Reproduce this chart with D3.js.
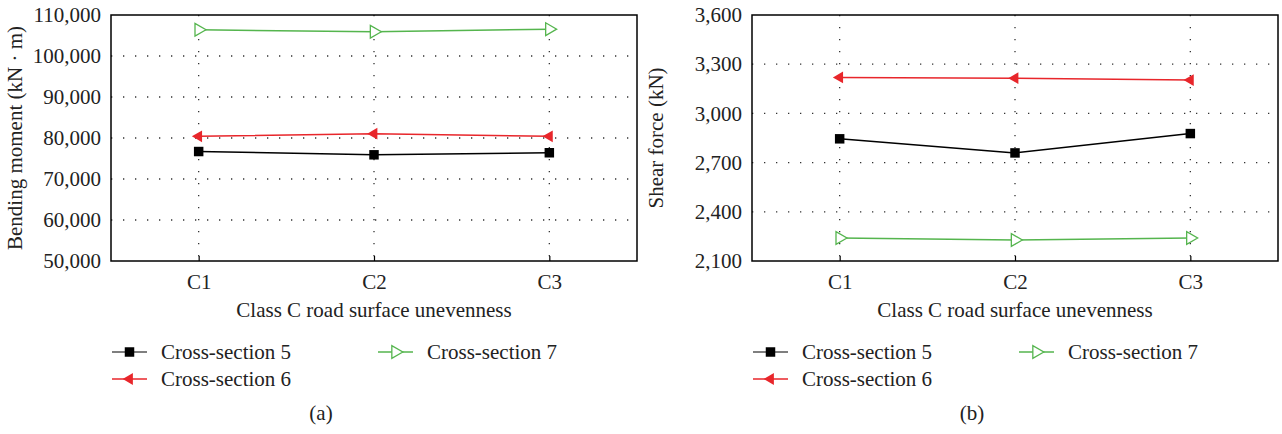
<!DOCTYPE html>
<html lang="en">
<head>
    <meta charset="UTF-8">
    <title>Class C road surface unevenness</title>
    <style>
        body { margin: 0; background: #fff; }
        text { font-family: "Liberation Serif", "DejaVu Serif", serif; fill: #222; }
    </style>
</head>
<body>
<div id="chart"></div>

<script src="https://d3js.org/d3.v7.min.js"></script>

<script>
    // Categories and series
    var categories = ["C1", "C2", "C3"];
    var seriesNames = ["Cross-section 5", "Cross-section 6", "Cross-section 7"];

    var moment5 = [76700, 75900, 76400];
    var moment6 = [80400, 81050, 80400];
    var moment7 = [106400, 105900, 106550];
    var momentTicks = [50000, 60000, 70000, 80000, 90000, 100000, 110000];

    var shear5 = [2845, 2759, 2877];
    var shear6 = [3219, 3215, 3203];
    var shear7 = [2240, 2228, 2240];
    var shearTicks = [2100, 2400, 2700, 3000, 3300, 3600];

    var colors = ["#000000", "#e8262b", "#55b54e"];

    var svg = d3.select("#chart").append("svg")
        .attr("width", 1282)
        .attr("height", 434);

    // Marker shapes: filled square, filled left triangle, open right triangle
    function addMarker(g, i, x, y) {
        if (i === 0) {
            g.append("path")
                .attr("d", d3.symbol().type(d3.symbolSquare).size(90)())
                .attr("transform", "translate(" + x + "," + y + ")")
                .attr("fill", colors[0]);
        } else if (i === 1) {
            g.append("path")
                .attr("d", d3.symbol().type(d3.symbolTriangle).size(60)())
                .attr("transform", "translate(" + x + "," + y + ") rotate(-90)")
                .attr("fill", colors[1]);
        } else {
            g.append("path")
                .attr("d", d3.symbol().type(d3.symbolTriangle).size(70)())
                .attr("transform", "translate(" + x + "," + y + ") rotate(90)")
                .attr("fill", "#fff")
                .attr("stroke", colors[2])
                .attr("stroke-width", 1.3);
        }
    }

    function drawPanel(p) {
        var left = p.left, top = 15, width = 526, height = 246;

        var x = d3.scaleLinear().domain([0.5, 3.5]).range([left, left + width]);
        var y = d3.scaleLinear().domain([p.ticks[0], p.ticks[p.ticks.length - 1]]).range([top + height, top]);

        var g = svg.append("g");

        // dotted grid
        g.selectAll(".hgrid")
            .data(p.ticks.slice(1, -1))
            .enter().append("line")
            .attr("x1", left).attr("x2", left + width)
            .attr("y1", d => y(d)).attr("y2", d => y(d))
            .attr("stroke", "#333").attr("stroke-width", 1.3)
            .attr("stroke-dasharray", "1.3,10.7");
        g.selectAll(".vgrid")
            .data(categories)
            .enter().append("line")
            .attr("x1", (d, i) => x(i + 1)).attr("x2", (d, i) => x(i + 1))
            .attr("y1", top).attr("y2", top + height)
            .attr("stroke", "#333").attr("stroke-width", 1.3)
            .attr("stroke-dasharray", "1.3,10.7");

        // y axis labels
        var yAxis = g.append("g")
            .attr("transform", "translate(" + left + ",0)")
            .call(d3.axisLeft(y).tickValues(p.ticks).tickFormat(d3.format(",")).tickSize(0).tickPadding(10));
        yAxis.select(".domain").remove();
        yAxis.attr("font-family", null).attr("font-size", null);
        yAxis.selectAll("text")
            .style("font-size", "21px")
            .attr("fill", "#222");

        // x axis labels
        var xAxis = g.append("g")
            .attr("transform", "translate(0," + (top + height) + ")")
            .call(d3.axisBottom(x).tickValues([1, 2, 3]).tickFormat((d) => categories[d - 1]).tickSize(-5).tickPadding(13));
        xAxis.select(".domain").remove();
        xAxis.attr("font-family", null).attr("font-size", null);
        xAxis.selectAll("line").attr("stroke", "#000").attr("stroke-width", 1.2);
        xAxis.selectAll("text")
            .style("font-size", "21px")
            .attr("fill", "#222");

        // series
        var line = d3.line().x((d, i) => x(i + 1)).y(d => y(d));
        p.series.forEach(function (s, i) {
            g.append("path")
                .datum(s)
                .attr("d", line)
                .attr("fill", "none")
                .attr("stroke", colors[i])
                .attr("stroke-width", 1.5);
            s.forEach(function (v, j) {
                addMarker(g, i, x(j + 1), y(v));
            });
        });

        // frame
        g.append("rect")
            .attr("x", left).attr("y", top)
            .attr("width", width).attr("height", height)
            .attr("fill", "none").attr("stroke", "#000").attr("stroke-width", 1.5);

        // axis titles
        g.append("text")
            .attr("transform", "translate(" + (left - 89) + "," + (top + height / 2) + ") rotate(-90)")
            .attr("text-anchor", "middle")
            .style("font-size", "21px")
            .text(p.yTitle);
        g.append("text")
            .attr("x", left + width / 2).attr("y", 317)
            .attr("text-anchor", "middle")
            .style("font-size", "21px")
            .text("Class C road surface unevenness");

        // legend
        var legendPos = [[left + 1, 352], [left + 1, 379], [left + 267, 352]];
        seriesNames.forEach(function (name, i) {
            var lx = legendPos[i][0], ly = legendPos[i][1];
            g.append("line")
                .attr("x1", lx).attr("x2", lx + 35)
                .attr("y1", ly).attr("y2", ly)
                .attr("stroke", i === 0 ? "#555" : colors[i]).attr("stroke-width", 1.5);
            addMarker(g, i, lx + 17.5, ly);
            g.append("text")
                .attr("x", lx + 49).attr("y", ly + 7)
                .style("font-size", "21px")
                .text(name);
        });

        // panel label
        g.append("text")
            .attr("x", p.labelX).attr("y", 420)
            .attr("text-anchor", "middle")
            .style("font-size", "21px")
            .text(p.label);
    }

    drawPanel({left: 111, ticks: momentTicks, series: [moment5, moment6, moment7],
        yTitle: "Bending moment (kN · m)", label: "(a)", labelX: 321});
    drawPanel({left: 752, ticks: shearTicks, series: [shear5, shear6, shear7],
        yTitle: "Shear force (kN)", label: "(b)", labelX: 972});
</script>

</body>
</html>
